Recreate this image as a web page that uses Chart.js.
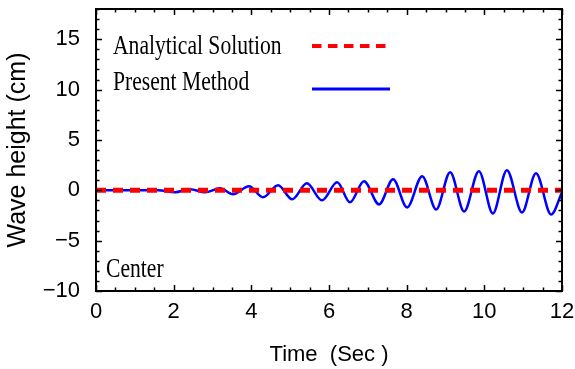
<!DOCTYPE html>
<html>
<head>
<meta charset="utf-8">
<script src="https://cdn.jsdelivr.net/npm/chart.js@4"></script>
<style>
  body { margin: 0; background: #fff; }
  #wrap { width: 575px; height: 369px; }
</style>
</head>
<body>
<div id="wrap"><canvas id="wave" width="575" height="369"></canvas></div>
<script>
// Present Method: time (s) and wave height (cm) at crests/troughs
const presentTime = [0, 1, 1.6, 2.03, 2.42, 2.81, 3.19, 3.53, 3.94, 4.30, 4.69, 5.05, 5.43, 5.82,
  6.21, 6.54, 6.90, 7.29, 7.65, 8.01, 8.40, 8.76, 9.12, 9.48, 9.86, 10.22, 10.58, 10.97, 11.33, 11.72, 12];
const presentHeight = [0, 0, 0, -0.2, 0.1, -0.2, 0.2, -0.4, 0.4, -0.7, 0.5, -0.9, 0.7, -1.0,
  0.8, -1.2, 0.9, -1.4, 1.1, -1.7, 1.4, -1.9, 1.8, -2.1, 1.9, -2.3, 2.0, -2.2, 1.7, -2.4, -0.2];

// Analytical Solution
const analyticalTime = [0, 12];
const analyticalHeight = [0, 0];

const xTicks = [0, 2, 4, 6, 8, 10, 12];
const yTicks = [-10, -5, 0, 5, 10, 15];
const legendLabels = ['Analytical Solution', 'Present Method'];
const probeLabel = 'Center';

const toPoints = (xs, ys) => xs.map((x, i) => ({ x: x, y: ys[i] }));
const fmt = v => (v < 0 ? '\u2212' + Math.abs(v) : String(v));

const sansFont = '"Liberation Sans", Arial, sans-serif';
const serifFont = '"Liberation Serif", "Times New Roman", serif';

// frame, inward ticks on all four sides, legend and label
const framePlugin = {
  id: 'frame',
  afterDatasetsDraw(chart) {
    const ctx = chart.ctx;
    const a = chart.chartArea;
    const xs = chart.scales.x, ys = chart.scales.y;
    ctx.save();
    ctx.strokeStyle = '#000';
    ctx.lineWidth = 2;
    ctx.strokeRect(a.left, a.top, a.right - a.left, a.bottom - a.top);

    ctx.lineWidth = 1.5;
    ctx.beginPath();
    for (let v = xs.min; v <= xs.max + 1e-9; v += 0.5) {
      const px = Math.round(xs.getPixelForValue(v)) + 0.5;
      const len = xTicks.includes(v) ? 6 : 3.5;
      ctx.moveTo(px, a.bottom); ctx.lineTo(px, a.bottom - len);
      ctx.moveTo(px, a.top); ctx.lineTo(px, a.top + len);
    }
    for (let v = ys.min; v <= ys.max + 1e-9; v += 1) {
      const py = Math.round(ys.getPixelForValue(v)) + 0.5;
      const len = yTicks.includes(v) ? 6 : 3.5;
      ctx.moveTo(a.left, py); ctx.lineTo(a.left + len, py);
      ctx.moveTo(a.right, py); ctx.lineTo(a.right - len, py);
    }
    ctx.stroke();

    // legend: condensed serif text with line sample to the right
    const ds = chart.data.datasets;
    const rows = [{ base: 54, line: 46 }, { base: 90, line: 89 }];
    rows.forEach((r, i) => {
      const d = ds[i];
      ctx.save();
      ctx.translate(a.left + 17, r.base);
      ctx.scale(0.8, 1);
      ctx.font = '27px ' + serifFont;
      ctx.fillStyle = '#000';
      ctx.textBaseline = 'alphabetic';
      ctx.fillText(legendLabels[i], 0, 0);
      ctx.restore();
      ctx.beginPath();
      ctx.strokeStyle = d.borderColor;
      ctx.lineWidth = i === 0 ? 4 : 3;
      ctx.setLineDash(i === 0 ? [9.5, 6.5] : []);
      ctx.moveTo(a.left + 216, r.line);
      ctx.lineTo(a.left + 294, r.line);
      ctx.stroke();
      ctx.setLineDash([]);
    });

    ctx.save();
    ctx.translate(a.left + 10, a.bottom - 14);
    ctx.scale(0.8, 1);
    ctx.font = '27px ' + serifFont;
    ctx.fillStyle = '#000';
    ctx.fillText(probeLabel, 0, 0);
    ctx.restore();
    ctx.restore();
  }
};

new Chart(document.getElementById('wave'), {
  type: 'line',
  data: {
    datasets: [
      {
        label: legendLabels[0],
        data: toPoints(analyticalTime, analyticalHeight),
        borderColor: '#ff0000',
        borderWidth: 5,
        borderDash: [10, 7],
        borderCapStyle: 'butt',
        pointRadius: 0,
        fill: false
      },
      {
        label: legendLabels[1],
        data: toPoints(presentTime, presentHeight),
        borderColor: '#0000ff',
        borderWidth: 2.5,
        cubicInterpolationMode: 'monotone',
        pointRadius: 0,
        fill: false
      }
    ]
  },
  options: {
    responsive: false,
    animation: false,
    layout: { padding: { top: 9, right: 13, left: 0, bottom: 0 } },
    plugins: { legend: { display: false }, tooltip: { enabled: false } },
    scales: {
      x: {
        type: 'linear',
        min: 0, max: 12,
        grid: { display: false },
        border: { display: false },
        afterFit(s) { s.height = 78; s.paddingLeft = 0; s.paddingRight = 0; },
        afterBuildTicks(s) { s.ticks = xTicks.map(v => ({ value: v })); },
        ticks: {
          callback: v => fmt(v),
          padding: 0,
          color: '#000',
          maxRotation: 0,
          autoSkip: false,
          font: { family: sansFont, size: 22 }
        },
        title: {
          display: true,
          text: 'Time  (Sec )',
          color: '#000',
          padding: { top: 0, bottom: 1 },
          font: { family: sansFont, size: 22 }
        }
      },
      y: {
        min: -10, max: 18,
        grid: { display: false },
        border: { display: false },
        afterFit(s) { s.width = 96; s.paddingTop = 0; s.paddingBottom = 0; },
        afterBuildTicks(s) { s.ticks = yTicks.map(v => ({ value: v })); },
        ticks: {
          callback: v => fmt(v),
          padding: 8,
          color: '#000',
          autoSkip: false,
          font: { family: sansFont, size: 22 }
        },
        title: {
          display: true,
          text: 'Wave height (cm)',
          color: '#000',
          padding: { top: 3, bottom: 0 },
          font: { family: sansFont, size: 25 }
        }
      }
    }
  },
  plugins: [framePlugin]
});
</script>
</body>
</html>
